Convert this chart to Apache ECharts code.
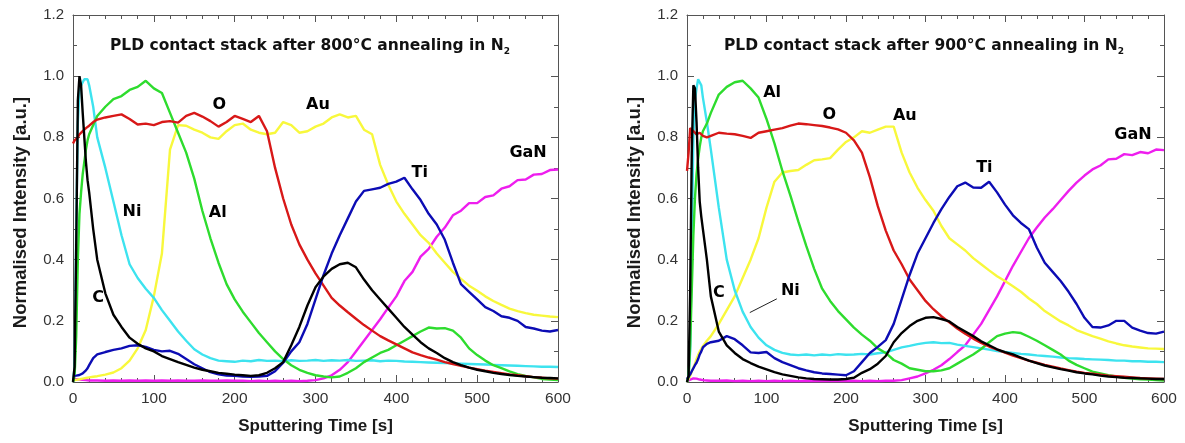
<!DOCTYPE html>
<html>
<head>
<meta charset="utf-8">
<script src="https://cdn.jsdelivr.net/npm/echarts@6/dist/echarts.min.js"></script>
<style>
  html, body { margin: 0; background: #fff; }
  #chart { width: 1185px; height: 443px; }
</style>
</head>
<body>
<div id="chart"></div>
<script>
  // sputtering time [s], shared by every curve
  const time = [0, 2, 4, 6, 8, 10, 12, 14, 16, 18, 20, 25,
    30, 40, 50, 60, 70, 80, 90, 100,
    110, 120, 130, 140, 150, 160, 170, 180, 190, 200,
    210, 220, 230, 240, 250, 260, 270, 280, 290, 300,
    310, 320, 330, 340, 350, 360, 370, 380, 390, 400,
    410, 420, 430, 440, 450, 460, 470, 480, 490, 500,
    510, 520, 530, 540, 550, 560, 570, 580, 590, 600]

  // 800 °C anneal
  const c800 = [0.00, 0.05, 0.45, 0.92, 1.00, 0.97, 0.88, 0.80, 0.72, 0.66, 0.62, 0.50,
    0.40, 0.29, 0.22, 0.18, 0.145, 0.125, 0.11, 0.10,
    0.085, 0.075, 0.065, 0.056, 0.047, 0.040, 0.035, 0.030, 0.027, 0.024,
    0.022, 0.020, 0.022, 0.030, 0.045, 0.065, 0.12, 0.18, 0.25, 0.31,
    0.345, 0.37, 0.385, 0.39, 0.375, 0.335, 0.30, 0.27, 0.24, 0.21,
    0.18, 0.155, 0.13, 0.11, 0.095, 0.078, 0.065, 0.055, 0.047, 0.040,
    0.035, 0.030, 0.026, 0.023, 0.020, 0.018, 0.016, 0.014, 0.013, 0.012]
  const ni800 = [0.00, 0.05, 0.50, 0.85, 0.95, 0.97, 0.98, 0.99, 0.985, 0.99, 0.97, 0.90,
    0.80, 0.70, 0.59, 0.48, 0.385, 0.34, 0.305, 0.275,
    0.235, 0.20, 0.165, 0.135, 0.107, 0.09, 0.078, 0.07, 0.068, 0.066,
    0.07, 0.068, 0.072, 0.069, 0.07, 0.068, 0.071, 0.069, 0.07, 0.072,
    0.069, 0.071, 0.07, 0.072, 0.069, 0.07, 0.071, 0.068, 0.07, 0.069,
    0.067, 0.066, 0.065, 0.064, 0.063, 0.062, 0.061, 0.06, 0.059, 0.058,
    0.057, 0.056, 0.055, 0.054, 0.053, 0.052, 0.051, 0.05, 0.05, 0.049]
  const al800 = [0.00, 0.02, 0.15, 0.40, 0.55, 0.62, 0.68, 0.72, 0.76, 0.79, 0.81, 0.84,
    0.87, 0.90, 0.925, 0.935, 0.955, 0.965, 0.985, 0.96,
    0.945, 0.88, 0.815, 0.75, 0.665, 0.56, 0.47, 0.39, 0.32, 0.27,
    0.23, 0.195, 0.16, 0.13, 0.10, 0.075, 0.055, 0.04, 0.03, 0.022,
    0.018, 0.015, 0.018, 0.03, 0.045, 0.065, 0.08, 0.095, 0.105, 0.12,
    0.135, 0.15, 0.165, 0.178, 0.175, 0.176, 0.168, 0.145, 0.11, 0.088,
    0.07, 0.055, 0.045, 0.035, 0.026, 0.02, 0.015, 0.01, 0.008, 0.006]
  const o800 = [0.78, 0.79, 0.795, 0.80, 0.81, 0.815, 0.82, 0.82, 0.83, 0.835, 0.838, 0.85,
    0.858, 0.865, 0.87, 0.875, 0.86, 0.842, 0.845, 0.84,
    0.85, 0.853, 0.848, 0.87, 0.88, 0.868, 0.853, 0.835, 0.85, 0.87,
    0.86, 0.85, 0.87, 0.82, 0.70, 0.60, 0.515, 0.45, 0.40, 0.355,
    0.315, 0.275, 0.25, 0.228, 0.207, 0.186, 0.168, 0.15, 0.136, 0.123,
    0.11, 0.097, 0.088, 0.08, 0.073, 0.065, 0.059, 0.053, 0.047, 0.042,
    0.037, 0.033, 0.029, 0.025, 0.022, 0.019, 0.016, 0.014, 0.012, 0.011]
  const au800 = [0.005, 0.006, 0.007, 0.008, 0.009, 0.01, 0.011, 0.012, 0.013, 0.014, 0.015, 0.017,
    0.019, 0.024, 0.031, 0.045, 0.07, 0.11, 0.17, 0.28,
    0.42, 0.76, 0.84, 0.838, 0.825, 0.815, 0.80, 0.795, 0.82, 0.84,
    0.845, 0.825, 0.815, 0.81, 0.815, 0.85, 0.84, 0.815, 0.82, 0.835,
    0.845, 0.865, 0.875, 0.865, 0.87, 0.825, 0.81, 0.71, 0.645, 0.59,
    0.55, 0.515, 0.48, 0.455, 0.42, 0.39, 0.36, 0.337, 0.315, 0.298,
    0.28, 0.265, 0.252, 0.24, 0.232, 0.225, 0.22, 0.217, 0.214, 0.212]
  const ti800 = [0.02, 0.02, 0.021, 0.022, 0.023, 0.025, 0.028, 0.032, 0.038, 0.045, 0.055, 0.078,
    0.09, 0.098, 0.105, 0.11, 0.118, 0.12, 0.115, 0.105,
    0.10, 0.102, 0.092, 0.075, 0.058, 0.045, 0.032, 0.025, 0.021, 0.02,
    0.018, 0.017, 0.018, 0.02, 0.035, 0.063, 0.10, 0.13, 0.19, 0.27,
    0.35, 0.42, 0.48, 0.535, 0.59, 0.625, 0.63, 0.635, 0.648, 0.655,
    0.668, 0.63, 0.595, 0.55, 0.515, 0.465, 0.39, 0.32, 0.295, 0.27,
    0.245, 0.232, 0.215, 0.21, 0.20, 0.18, 0.175, 0.168, 0.165, 0.17]
  const gan800 = [0.01, 0.01, 0.009, 0.008, 0.008, 0.007, 0.007, 0.006, 0.006, 0.006, 0.005, 0.005,
    0.005, 0.004, 0.005, 0.004, 0.005, 0.004, 0.005, 0.004,
    0.005, 0.004, 0.005, 0.004, 0.004, 0.005, 0.004, 0.004, 0.005, 0.004,
    0.004, 0.003, 0.004, 0.003, 0.004, 0.003, 0.004, 0.003, 0.004, 0.006,
    0.012, 0.022, 0.04, 0.065, 0.10, 0.135, 0.17, 0.205, 0.243, 0.28,
    0.33, 0.36, 0.41, 0.435, 0.475, 0.505, 0.545, 0.56, 0.585, 0.585,
    0.605, 0.61, 0.632, 0.64, 0.66, 0.662, 0.678, 0.68, 0.693, 0.695]

  // 900 °C anneal
  const c900 = [0.00, 0.02, 0.30, 0.75, 0.97, 0.96, 0.85, 0.70, 0.59, 0.54, 0.50, 0.40,
    0.28, 0.165, 0.12, 0.095, 0.075, 0.062, 0.05, 0.041,
    0.032, 0.025, 0.02, 0.015, 0.012, 0.01, 0.009, 0.008, 0.008, 0.01,
    0.014, 0.03, 0.042, 0.06, 0.085, 0.13, 0.16, 0.183, 0.20, 0.21,
    0.212, 0.206, 0.198, 0.18, 0.165, 0.15, 0.133, 0.12, 0.107, 0.098,
    0.09, 0.08, 0.07, 0.062, 0.054, 0.048, 0.042, 0.037, 0.032, 0.028,
    0.025, 0.021, 0.018, 0.016, 0.014, 0.013, 0.012, 0.011, 0.01, 0.01]
  const ni900 = [0.00, 0.02, 0.10, 0.45, 0.80, 0.92, 0.96, 0.99, 0.995, 0.97, 0.93, 0.85,
    0.76, 0.57, 0.40, 0.30, 0.23, 0.18, 0.145, 0.12,
    0.105, 0.095, 0.09, 0.088, 0.09, 0.087, 0.09, 0.088, 0.091, 0.089,
    0.09, 0.092, 0.09, 0.094, 0.097, 0.105, 0.113, 0.118, 0.124, 0.128,
    0.13, 0.127, 0.128, 0.122, 0.118, 0.114, 0.11, 0.106, 0.101, 0.098,
    0.095, 0.092, 0.09, 0.087, 0.085, 0.083, 0.08, 0.078, 0.077, 0.075,
    0.074, 0.073, 0.072, 0.07, 0.07, 0.068, 0.068, 0.066, 0.066, 0.065]
  const al900 = [0.00, 0.02, 0.12, 0.30, 0.48, 0.60, 0.68, 0.73, 0.77, 0.80, 0.82, 0.845,
    0.88, 0.94, 0.965, 0.98, 0.985, 0.96, 0.93, 0.86,
    0.78, 0.69, 0.61, 0.525, 0.445, 0.37, 0.305, 0.265, 0.232, 0.205,
    0.178, 0.155, 0.135, 0.11, 0.095, 0.072, 0.06, 0.045, 0.04, 0.035,
    0.035, 0.038, 0.045, 0.06, 0.075, 0.09, 0.108, 0.13, 0.15, 0.158,
    0.163, 0.16, 0.148, 0.135, 0.12, 0.105, 0.09, 0.07, 0.056, 0.045,
    0.034, 0.028, 0.022, 0.018, 0.014, 0.011, 0.009, 0.008, 0.006, 0.005]
  const o900 = [0.69, 0.75, 0.83, 0.83, 0.82, 0.815, 0.81, 0.815, 0.815, 0.81, 0.805, 0.80,
    0.805, 0.815, 0.812, 0.81, 0.805, 0.798, 0.815, 0.82,
    0.825, 0.83, 0.838, 0.845, 0.843, 0.84, 0.837, 0.832, 0.826, 0.815,
    0.79, 0.75, 0.67, 0.575, 0.495, 0.43, 0.385, 0.335, 0.30, 0.265,
    0.238, 0.215, 0.195, 0.175, 0.158, 0.142, 0.128, 0.116, 0.106, 0.096,
    0.086, 0.078, 0.07, 0.063, 0.056, 0.05, 0.044, 0.039, 0.034, 0.03,
    0.027, 0.024, 0.021, 0.019, 0.017, 0.015, 0.013, 0.012, 0.011, 0.01]
  const au900 = [0.00, 0.01, 0.02, 0.035, 0.047, 0.06, 0.075, 0.088, 0.10, 0.108, 0.117, 0.135,
    0.15, 0.19, 0.235, 0.28, 0.34, 0.40, 0.47, 0.57,
    0.655, 0.685, 0.69, 0.693, 0.71, 0.725, 0.728, 0.732, 0.76, 0.785,
    0.80, 0.82, 0.815, 0.825, 0.835, 0.835, 0.75, 0.685, 0.635, 0.595,
    0.56, 0.51, 0.47, 0.45, 0.43, 0.405, 0.385, 0.365, 0.346, 0.33,
    0.313, 0.295, 0.273, 0.255, 0.232, 0.215, 0.198, 0.185, 0.17, 0.16,
    0.15, 0.142, 0.133, 0.126, 0.12, 0.116, 0.113, 0.11, 0.109, 0.108]
  const ti900 = [0.01, 0.015, 0.025, 0.035, 0.045, 0.055, 0.063, 0.075, 0.09, 0.10, 0.113, 0.125,
    0.13, 0.135, 0.15, 0.14, 0.12, 0.097, 0.095, 0.098,
    0.078, 0.065, 0.055, 0.045, 0.038, 0.032, 0.028, 0.026, 0.024, 0.022,
    0.035, 0.065, 0.095, 0.115, 0.137, 0.19, 0.27, 0.35, 0.42, 0.47,
    0.52, 0.565, 0.605, 0.64, 0.652, 0.636, 0.635, 0.655, 0.62, 0.58,
    0.545, 0.52, 0.50, 0.44, 0.39, 0.36, 0.33, 0.295, 0.255, 0.21,
    0.18, 0.178, 0.185, 0.20, 0.20, 0.178, 0.168, 0.16, 0.158, 0.165]
  const gan900 = [0.003, 0.005, 0.008, 0.01, 0.012, 0.012, 0.011, 0.01, 0.008, 0.007, 0.006, 0.005,
    0.004, 0.004, 0.005, 0.003, 0.004, 0.003, 0.004, 0.003,
    0.004, 0.003, 0.004, 0.003, 0.004, 0.003, 0.004, 0.003, 0.004, 0.003,
    0.004, 0.003, 0.004, 0.003, 0.004, 0.004, 0.006, 0.012, 0.018, 0.028,
    0.04, 0.055, 0.075, 0.098, 0.12, 0.155, 0.19, 0.235, 0.28, 0.33,
    0.38, 0.425, 0.47, 0.505, 0.538, 0.565, 0.595, 0.625, 0.652, 0.675,
    0.695, 0.708, 0.728, 0.73, 0.745, 0.742, 0.752, 0.748, 0.76, 0.758]

  // curve annotations [text, time, intensity]
  const notes800 = [['O', 181, 0.905], ['Au', 303, 0.905], ['Ti', 429, 0.685], ['GaN', 563, 0.75],
    ['Ni', 73, 0.556], ['Al', 179, 0.554], ['C', 31, 0.276]]
  const notes900 = [['Al', 107, 0.944], ['O', 179, 0.875], ['Au', 274, 0.869], ['Ti', 374, 0.701],
    ['GaN', 561, 0.809], ['C', 40, 0.292], ['Ni', 130, 0.299]]
  const niArrow900 = [[113, 0.272], [79, 0.227]]

  const colors = {
    C: '#000000', Ni: '#3de3ef', Al: '#2edc2e', O: '#d81818',
    Au: '#f8f83c', Ti: '#0c0cb4', GaN: '#ee1eee'
  }
  const font = 'Arial, "Liberation Sans", sans-serif'
  const wideFont = '"DejaVu Sans", Verdana, sans-serif'
  const frame = '#555'

  function xAxisPair (gi) {
    const base = {
      type: 'value', gridIndex: gi, min: 0, max: 600, interval: 100,
      splitLine: { show: false },
      axisLine: { onZero: false, lineStyle: { color: frame, width: 1 } },
      axisTick: { inside: true, length: 7, lineStyle: { color: frame } },
      minorTick: { show: true, splitNumber: 5, length: 4, lineStyle: { color: frame } }
    }
    return [
      Object.assign({}, base, {
        position: 'bottom',
        name: 'Sputtering Time [s]',
        nameLocation: 'middle',
        nameGap: 36,
        nameTextStyle: { fontSize: 17, fontWeight: 'bold', color: '#1a1a1a', fontFamily: font },
        axisLabel: { fontSize: 15.5, color: '#333', margin: 9, fontFamily: font }
      }),
      Object.assign({}, base, { position: 'top', axisLabel: { show: false } })
    ]
  }

  function yAxisPair (gi) {
    const base = {
      type: 'value', gridIndex: gi, min: 0, max: 1.2, interval: 0.2,
      splitLine: { show: false },
      axisLine: { show: true, onZero: false, lineStyle: { color: frame, width: 1 } },
      axisTick: { show: true, inside: true, length: 7, lineStyle: { color: frame } },
      minorTick: { show: true, splitNumber: 2, length: 4, lineStyle: { color: frame } }
    }
    return [
      Object.assign({}, base, {
        position: 'left',
        name: 'Normalised Intensity [a.u.]',
        nameLocation: 'middle',
        nameGap: 43,
        // right padding nudges the rotated title a little lower, as in the source
        nameTextStyle: {
          fontSize: 18.5, fontWeight: 'bold', color: '#1a1a1a', fontFamily: font,
          padding: [0, 28, 0, 0]
        },
        axisLabel: {
          fontSize: 15, color: '#333', margin: 9, fontFamily: font,
          formatter: v => v.toFixed(1)
        }
      }),
      Object.assign({}, base, { position: 'right', axisLabel: { show: false } })
    ]
  }

  function curve (name, vals, gi) {
    return {
      name: name,
      type: 'line',
      xAxisIndex: gi * 2,
      yAxisIndex: gi * 2,
      data: time.map((t, i) => [t, vals[i]]),
      showSymbol: false,
      symbol: 'none',
      lineStyle: { color: colors[name], width: 2.4 },
      itemStyle: { color: colors[name] },
      silent: true,
      animation: false
    }
  }

  function notes (list, gi) {
    return {
      type: 'scatter',
      xAxisIndex: gi * 2,
      yAxisIndex: gi * 2,
      data: list.map(n => [n[1], n[2], n[0]]),
      symbolSize: 1,
      itemStyle: { color: '#fff', opacity: 0 },
      label: {
        show: true,
        position: 'inside',
        formatter: p => p.value[2],
        fontSize: 16,
        fontWeight: 'bold',
        color: '#000',
        textBorderWidth: 0,
        opacity: 1,
        fontFamily: wideFont
      },
      silent: true,
      animation: false,
      z: 5
    }
  }

  function titleFor (temp, left) {
    return {
      left: left,
      top: 30,
      text: '{a|PLD contact stack after ' + temp + '°C annealing in N}{s|2}',
      textStyle: {
        rich: {
          a: { fontSize: 15.5, fontWeight: 'bold', color: '#111', fontFamily: wideFont, lineHeight: 21 },
          s: { fontSize: 9, fontWeight: 'bold', color: '#111', fontFamily: wideFont, verticalAlign: 'bottom' }
        }
      }
    }
  }

  const order = ['GaN', 'Au', 'Ni', 'Al', 'O', 'Ti', 'C']
  const set800 = { C: c800, Ni: ni800, Al: al800, O: o800, Au: au800, Ti: ti800, GaN: gan800 }
  const set900 = { C: c900, Ni: ni900, Al: al900, O: o900, Au: au900, Ti: ti900, GaN: gan900 }

  const series = []
  order.forEach(n => series.push(curve(n, set800[n], 0)))
  order.forEach(n => series.push(curve(n, set900[n], 1)))
  series.push(notes(notes800, 0))
  series.push(notes(notes900, 1))

  // arrow pointing from the Ni label to the Ni curve (900 °C)
  const niSeries = series.find(s => s.name === 'Ni' && s.xAxisIndex === 2)
  niSeries.markLine = {
    silent: true,
    animation: false,
    symbol: ['none', 'arrow'],
    symbolSize: [0, 8],
    lineStyle: { color: '#222', width: 1, type: 'solid' },
    label: { show: false },
    data: [[{ coord: niArrow900[0] }, { coord: niArrow900[1] }]]
  }

  const option = {
    backgroundColor: '#fff',
    animation: false,
    title: [titleFor(800, 105), titleFor(900, 719)],
    grid: [
      { left: 73, right: 627, top: 15, bottom: 61 },
      { left: 687, right: 21, top: 15, bottom: 61 }
    ],
    xAxis: xAxisPair(0).concat(xAxisPair(1)),
    yAxis: yAxisPair(0).concat(yAxisPair(1)),
    series: series
  }

  const chart = echarts.init(document.getElementById('chart'))
  chart.setOption(option)
  window.addEventListener('resize', () => {
    chart.resize()
  })
</script>
</body>
</html>
